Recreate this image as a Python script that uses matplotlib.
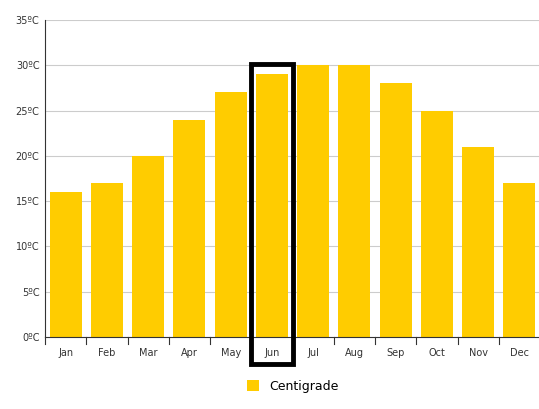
import matplotlib
matplotlib.use("Agg")
import matplotlib.pyplot as plt
from matplotlib.patches import Rectangle

months = ["Jan","Feb","Mar","Apr","May","Jun","Jul","Aug","Sep","Oct","Nov","Dec"]
temps = [16,17,20,24,27,29,30,30,28,25,21,17]
yticks = [0,5,10,15,20,25,30,35]
highlight = "Jun"

fig = plt.figure(figsize=(5.39,4.09), dpi=100)
ax = fig.add_axes([45/539, 1-337/409, 495/539, 317/409])
x = range(len(months))
ax.bar(x, temps, width=0.78, color="#FFCC00", label="Centigrade", zorder=2)
ax.set_xlim(-0.5, 11.5)
ax.set_ylim(0, 35)
ax.set_yticks(yticks)
ax.set_yticklabels([f"{v}ºC" for v in yticks], fontsize=7, color="#333333")
ax.set_xticks(list(x))
ax.set_xticklabels(months, fontsize=7, color="#333333")
ax.tick_params(axis="y", length=0, pad=4)
ax.tick_params(axis="x", length=0, pad=8)
for v in yticks[1:]:
    ax.axhline(v, color="#cccccc", lw=0.8, zorder=1)
for s in ["top","right"]:
    ax.spines[s].set_visible(False)
ax.spines["left"].set_color("#333333")
ax.spines["bottom"].set_color("#333333")
for i in range(13):
    ax.plot([i-0.5, i-0.5], [0, -0.8], color="#333333", lw=0.8, clip_on=False)
i = months.index(highlight)
ax.add_patch(Rectangle((i-0.5, -3), 1.0, temps[i]+3+1.1, fill=False, ec="black", lw=3.5, clip_on=False, zorder=5))
ax.legend(loc="upper center", bbox_to_anchor=(0.5, -0.1), frameon=False, fontsize=9,
          handlelength=1.0, handleheight=1.0)
fig.savefig("out.png", dpi=100)
